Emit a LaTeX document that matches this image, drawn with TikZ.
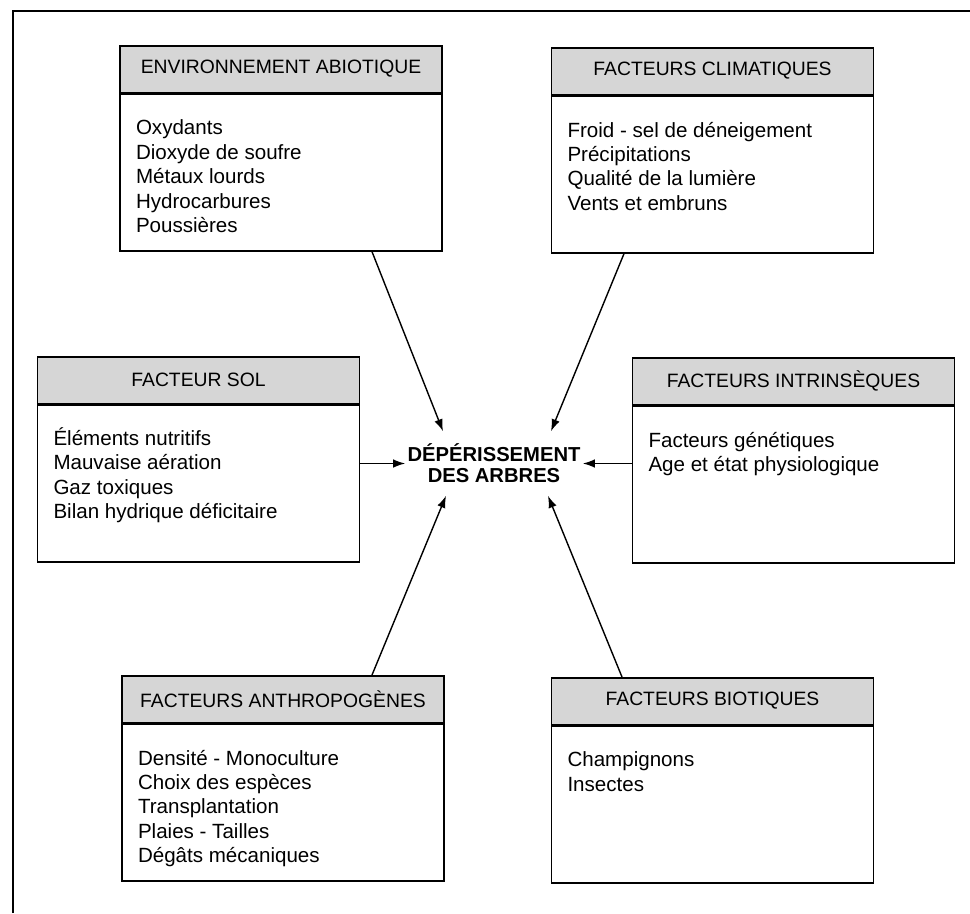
\documentclass[tikz,border=0pt]{standalone}
\usepackage{fontspec}
\setmainfont{Liberation Sans}
\usepackage{xcolor}
\definecolor{headgray}{RGB}{214,214,214}
\usetikzlibrary{positioning,arrows.meta}

\begin{document}
\begin{tikzpicture}[
  line width=0.9pt,
  head/.style={
    draw,
    fill=headgray,
    anchor=north,
    minimum width=6.44cm,
    minimum height=0.93cm,
    font=\fontsize{11}{13}\selectfont
    },
  body/.style={
    draw,
    minimum width=6.44cm,
    minimum height=3.14cm
    },
  list/.style={
    align=left,
    inner sep=0pt,
    font=\fontsize{11.7}{13.9}\selectfont
    },
  deprect/.style={
    align=center,
    inner sep=0pt,
    minimum width=3.52cm,
    minimum height=1.26cm,
    font=\fontsize{11.5}{12}\selectfont\bfseries
    },
  conn/.style={
    line width=0.8pt,
    -{Latex[length=2.4mm,width=1.7mm]}
    }
]
\useasboundingbox (0,0) rectangle (19.4,-18.26);
\draw[line width=0.7pt] (0.26,-18.26) -- (0.26,-0.22) -- (19.4,-0.22);

\node [head] (envhead) at (5.62,-0.90) {ENVIRONNEMENT ABIOTIQUE};
\node [body, below=0pt of envhead] (envbody) {};
\node [list, below right=0.52cm and 0.32cm of envbody.north west] (envlist)
  {Oxydants\\Dioxyde de soufre\\Métaux lourds\\Hydrocarbures\\Poussières};

\node [head] (climhead) at (14.25,-0.94) {FACTEURS CLIMATIQUES};
\node [body, below=0pt of climhead] (climbody) {};
\node [list, below right=0.52cm and 0.32cm of climbody.north west] (climlist)
  {Froid - sel de déneigement\\Précipitations\\Qualité de la lumière\\Vents et embruns};

\node [head] (solhead) at (3.97,-7.12) {FACTEUR SOL};
\node [body, below=0pt of solhead] (solbody) {};
\node [list, below right=0.45cm and 0.32cm of solbody.north west] (sollist)
  {Éléments nutritifs\\Mauvaise aération\\Gaz toxiques\\Bilan hydrique déficitaire};

\node [head] (inthead) at (15.87,-7.14) {FACTEURS INTRINSÈQUES};
\node [body, below=0pt of inthead] (intbody) {};
\node [list, below right=0.52cm and 0.32cm of intbody.north west] (intlist)
  {Facteurs génétiques\\Age et état physiologique};

\node [head] (anthead) at (5.66,-13.50) {FACTEURS ANTHROPOGÈNES};
\node [body, below=0pt of anthead] (antbody) {};
\node [list, below right=0.52cm and 0.32cm of antbody.north west] (antlist)
  {Densité - Monoculture\\Choix des espèces\\Transplantation\\Plaies - Tailles\\Dégâts mécaniques};

\node [head] (biohead) at (14.25,-13.54) {FACTEURS BIOTIQUES};
\node [body, below=0pt of biohead] (biobody) {};
\node [list, below right=0.52cm and 0.32cm of biobody.north west] (biolist)
  {Champignons\\Insectes};

\node [deprect] (dep) at (9.88,-9.27) {DÉPÉRISSEMENT\\DES ARBRES};

\draw [conn] ([xshift=1.82cm]envbody.south) -- ([xshift=-1.02cm]dep.north);
\draw [conn] ([xshift=-1.77cm]climbody.south) -- ([xshift=1.14cm]dep.north);
\draw [conn] (dep.west -| solbody.east) -- (dep.west);
\draw [conn] (dep.east -| intbody.west) -- (dep.east);
\draw [conn] ([xshift=1.78cm]anthead.north) -- ([xshift=-0.96cm]dep.south);
\draw [conn] ([xshift=-1.81cm]biohead.north) -- ([xshift=1.08cm]dep.south);

\end{tikzpicture}
\end{document}
